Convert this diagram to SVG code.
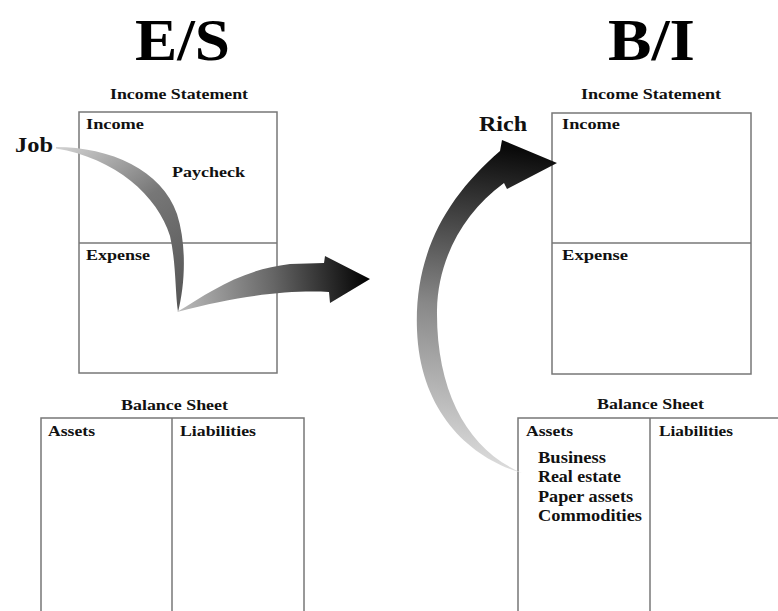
<svg xmlns="http://www.w3.org/2000/svg" width="778" height="611" viewBox="0 0 778 611">
<style>
.t{font-family:"Liberation Serif","Times New Roman",serif;font-weight:bold;fill:#111}
.big{font-size:60px;fill:#000}
.h{font-size:14px}
.l{font-size:15px}
.li{font-size:16px}
.lab{font-size:20px}
.box{fill:none;stroke:#777;stroke-width:1.5}
</style>
<defs>
<linearGradient id="g1" gradientUnits="userSpaceOnUse" x1="60" y1="147" x2="180" y2="312">
<stop offset="0" stop-color="#d0d0d0"/><stop offset="0.45" stop-color="#777"/><stop offset="1" stop-color="#555"/>
</linearGradient>
<linearGradient id="g2" gradientUnits="userSpaceOnUse" x1="178" y1="300" x2="370" y2="280">
<stop offset="0" stop-color="#bbb"/><stop offset="0.5" stop-color="#666"/><stop offset="1" stop-color="#000"/>
</linearGradient>
<linearGradient id="g3" gradientUnits="userSpaceOnUse" x1="480" y1="474" x2="520" y2="150">
<stop offset="0" stop-color="#e0e0e0"/><stop offset="0.5" stop-color="#888"/><stop offset="1" stop-color="#0a0a0a"/>
</linearGradient>
</defs>
<rect width="778" height="611" fill="#fff"/>

<g id="title-es"><text class="t big" x="135" y="60" textLength="95" lengthAdjust="spacingAndGlyphs">E/S</text></g>
<g id="title-bi"><text class="t big" x="608" y="60" textLength="87" lengthAdjust="spacingAndGlyphs">B/I</text></g>

<g id="es-income-statement">
<text class="t h" x="110" y="99" textLength="138" lengthAdjust="spacingAndGlyphs">Income Statement</text>
<rect class="box" x="79" y="112" width="198" height="261"/>
<line class="box" x1="79" y1="243" x2="277" y2="243"/>
<text class="t l" x="86" y="129" textLength="58" lengthAdjust="spacingAndGlyphs">Income</text>
<text class="t l" x="86" y="260" textLength="64" lengthAdjust="spacingAndGlyphs">Expense</text>
<text class="t l" x="172" y="177" textLength="73" lengthAdjust="spacingAndGlyphs">Paycheck</text>
</g>

<g id="es-balance-sheet">
<text class="t h" x="121" y="410" textLength="107" lengthAdjust="spacingAndGlyphs">Balance Sheet</text>
<rect class="box" x="41" y="418" width="263" height="200"/>
<line class="box" x1="172" y1="418" x2="172" y2="611"/>
<text class="t l" x="48" y="436" textLength="47" lengthAdjust="spacingAndGlyphs">Assets</text>
<text class="t l" x="180" y="436" textLength="76" lengthAdjust="spacingAndGlyphs">Liabilities</text>
</g>

<g id="bi-income-statement">
<text class="t h" x="581" y="99" textLength="140" lengthAdjust="spacingAndGlyphs">Income Statement</text>
<rect class="box" x="552" y="113" width="199" height="261"/>
<line class="box" x1="552" y1="243" x2="751" y2="243"/>
<text class="t l" x="562" y="129" textLength="58" lengthAdjust="spacingAndGlyphs">Income</text>
<text class="t l" x="562" y="260" textLength="66" lengthAdjust="spacingAndGlyphs">Expense</text>
</g>

<g id="bi-balance-sheet">
<text class="t h" x="597" y="409" textLength="107" lengthAdjust="spacingAndGlyphs">Balance Sheet</text>
<rect class="box" x="518" y="418" width="264" height="200"/>
<line class="box" x1="650" y1="418" x2="650" y2="611"/>
<text class="t l" x="526" y="436" textLength="47" lengthAdjust="spacingAndGlyphs">Assets</text>
<text class="t l" x="659" y="436" textLength="74" lengthAdjust="spacingAndGlyphs">Liabilities</text>
<text class="t li" x="538" y="463" textLength="68" lengthAdjust="spacingAndGlyphs">Business</text>
<text class="t li" x="538" y="482" textLength="83" lengthAdjust="spacingAndGlyphs">Real estate</text>
<text class="t li" x="538" y="502" textLength="95" lengthAdjust="spacingAndGlyphs">Paper assets</text>
<text class="t li" x="538" y="521" textLength="104" lengthAdjust="spacingAndGlyphs">Commodities</text>
</g>

<g id="job"><text class="t lab" x="15" y="152" textLength="38" lengthAdjust="spacingAndGlyphs">Job</text></g>
<g id="rich"><text class="t lab" x="479" y="131" textLength="48" lengthAdjust="spacingAndGlyphs">Rich</text></g>

<g id="connectors">
<path fill="url(#g1)" d="M56,147 C110,147 162,170 177,214 C187,245 185,285 178,312 C175,290 176,262 170,236 C158,196 115,158 56,148.5 Z"/>
<path fill="url(#g2)" d="M177,312 C210,292 240,270 290,264 L324,263 L325,256 L370,279 L330,303 L329,292 C290,290 240,295 177,312 Z"/>
<path fill="url(#g3)" d="M522,473 C470,458 420,412 417,330 C414,252 448,196 500,151 L502,140 L557,163 L507,189 L504,183 C462,214 438,260 437,310 C436,392 468,450 522,473 Z"/>
</g>
</svg>
